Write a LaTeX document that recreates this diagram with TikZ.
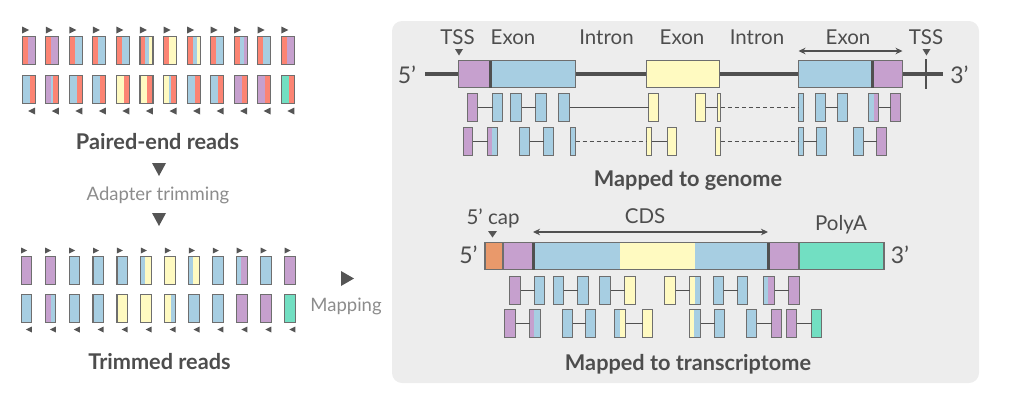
\documentclass[tikz,border=0pt]{standalone}
\usepackage{fontspec}
\setmainfont{Lato}
\usepackage{tikz}
\usetikzlibrary{arrows.meta}
\definecolor{adapterColor}{HTML}{FC8473}
\definecolor{exonAColor}{HTML}{A7CEE2}
\definecolor{exonBColor}{HTML}{FFFAC1}
\definecolor{utrColor}{HTML}{C6A0CE}
\definecolor{polyAColor}{HTML}{72DFC2}
\definecolor{capColor}{HTML}{E9996B}
\definecolor{edgeColor}{HTML}{6E6E6E}
\definecolor{lineColor}{HTML}{505050}
\definecolor{markColor}{HTML}{555555}
\definecolor{textColor}{HTML}{4D4D4D}
\definecolor{noteColor}{HTML}{8C8C8C}
\definecolor{panelColor}{HTML}{EDEDED}

\def\readsTop{utrColor/utrColor, utrColor/utrColor, exonAColor/exonAColor, exonAColor/exonAColor, exonAColor/exonAColor, exonBColor/exonAColor, exonBColor/exonBColor, exonBColor/exonAColor, exonAColor/exonAColor, utrColor/exonAColor, exonAColor/exonAColor, utrColor/utrColor}
\def\readsBottom{exonAColor/exonAColor, utrColor/exonAColor, exonAColor/exonAColor, exonAColor/exonAColor, exonBColor/exonBColor, exonBColor/exonBColor, exonBColor/exonAColor, exonAColor/exonAColor, exonAColor/exonAColor, utrColor/utrColor, utrColor/utrColor, polyAColor/polyAColor}

\begin{document}
\begin{tikzpicture}[x=1pt, y=-1pt,
    read/.style={draw=edgeColor, line width=1.1pt, minimum height=28pt, inner sep=0pt, outer sep=0pt},
    gbox/.style={read, minimum height=27pt},
    lpart/.style 2 args={path picture={\fill[#1] (path picture bounding box.north west) rectangle ([xshift=#2]path picture bounding box.south west);}},
    rpart/.style 2 args={path picture={\fill[#1] ([xshift=-#2]path picture bounding box.north east) rectangle (path picture bounding box.south east);}},
    adapterL/.style 2 args={fill=#1, path picture={
        \fill[#2] (path picture bounding box.north west) rectangle ([xshift=9.5pt]path picture bounding box.south west);
        \fill[adapterColor] (path picture bounding box.north west) rectangle ([xshift=5.5pt]path picture bounding box.south west);}},
    adapterR/.style 2 args={fill=#1, path picture={
        \fill[#2] ([xshift=5.5pt]path picture bounding box.north west) rectangle (path picture bounding box.south east);
        \fill[adapterColor] ([xshift=-5.5pt]path picture bounding box.north east) rectangle (path picture bounding box.south east);}},
    link/.style={draw=lineColor, line width=1.8pt},
    dottedlink/.style={link, dash pattern=on 4pt off 3pt},
    cutline/.style={draw=lineColor, line width=3pt},
    spanarrow/.style={draw=lineColor, line width=1.6pt, {Stealth[length=7pt,width=6.5pt]}-{Stealth[length=7pt,width=6.5pt]}},
    lbl/.style={text=textColor, font=\fontsize{20.5}{20.5}\selectfont, anchor=base, inner sep=0pt},
    endlabel/.style={lbl, font=\fontsize{23}{23}\selectfont},
    heading/.style={lbl, font=\bfseries\fontsize{21.7}{21.7}\selectfont},
    note/.style={lbl, text=noteColor, font=\fontsize{18.5}{18.5}\selectfont}]
\useasboundingbox (0,0) rectangle (1027,415);

% reads before and after trimming
\foreach \m/\s [count=\i] in \readsTop {
  \node[read, minimum width=13, adapterL={\m}{\s}] (p\i) at ({28.7+(\i-1)*23.55}, 50.5) {};
  \fill[markColor] ([yshift=3pt]p\i.north west) -- ++(0,-7) -- ++(7,3.5) -- cycle;
  \node[read, minimum width=10.7, fill=\m, lpart={\s}{4pt}] (t\i) at ({26.5+(\i-1)*23.95}, 270.5) {};
  \fill[markColor] ([yshift=3pt]t\i.north west) -- ++(0,-6) -- ++(6,3) -- cycle;
}
\foreach \m/\s [count=\i] in \readsBottom {
  \node[read, minimum width=13, adapterR={\m}{\s}] (q\i) at ({28.7+(\i-1)*23.55}, 89.5) {};
  \fill[markColor] ([yshift=-4pt]q\i.south east) -- ++(0,7) -- ++(-7,-3.5) -- cycle;
  \node[read, minimum width=10.7, fill=\s, lpart={\m}{6pt}] (u\i) at ({26.5+(\i-1)*23.95}, 308.5) {};
  \fill[markColor] ([yshift=-4pt]u\i.south east) -- ++(0,6) -- ++(-6,-3) -- cycle;
}
\node[heading] (paired) at (157.5,149) {Paired-end reads};
\fill[markColor] (152,163) -- (166,163) -- (159,176) -- cycle;
\node[note] (trim) at (158,200) {Adapter trimming};
\fill[markColor] (152,213) -- (166,213) -- (159,226) -- cycle;
\node[heading] (trimmed) at (159.5,369) {Trimmed reads};
\fill[markColor] (341,271) -- (341,286) -- (354,278.5) -- cycle;
\node[note] (mapping) at (346,311) {Mapping};

\fill[panelColor, rounded corners=10pt] (392,21) rectangle (979,383);

% genome
\coordinate (g5) at (425,74);
\coordinate (g3) at (943,74);
\draw[lineColor, line width=3.5pt] (g5) -- (g3);
\coordinate (tickTop) at (926,59);
\coordinate (tickBot) at (926,89);
\draw[lineColor, line width=2pt] (tickTop) -- (tickBot);
\node[gbox, minimum width=117, fill=exonAColor, lpart={utrColor}{31.5pt}] (exon1) at (517,74) {};
\draw[cutline] ([xshift=31.5pt]exon1.north west) -- ([xshift=31.5pt]exon1.south west);
\node[gbox, minimum width=73, fill=exonBColor] (exon2) at (683,74) {};
\node[gbox, minimum width=104, fill=exonAColor, rpart={utrColor}{30pt}] (exon3) at (850.5,74) {};
\draw[cutline] ([xshift=-30pt]exon3.north east) -- ([xshift=-30pt]exon3.south east);
\node[endlabel] (g5l) at (407,83) {5’};
\node[endlabel] (g3l) at (959.5,83) {3’};
\node[lbl] (tss1) at (457.5,44) {TSS};
\node[lbl] (ex1) at (513,44) {Exon};
\node[lbl] (in1) at (606.5,44) {Intron};
\node[lbl] (ex2) at (682,44) {Exon};
\node[lbl] (in2) at (757,44) {Intron};
\node[lbl] (ex3) at (848,44) {Exon};
\node[lbl] (tss2) at (926,44) {TSS};
\fill[markColor] (455,49) -- (463,49) -- (459,55.5) -- cycle;
\fill[markColor] (922.5,49) -- (930.5,49) -- (926.5,55.5) -- cycle;
\coordinate (exonTop) at (0,51);
\draw[spanarrow] (exon3.west |- exonTop) -- (exon3.east |- exonTop);

\node[read, minimum width=10, fill=utrColor] (r1a) at (472.5,107.5) {};
\node[read, minimum width=10, fill=exonAColor] (r1b) at (497.5,107.5) {};
\node[read, minimum width=11, fill=exonAColor] (r1c) at (516,107.5) {};
\node[read, minimum width=11, fill=exonAColor] (r1d) at (541,107.5) {};
\node[read, minimum width=11, fill=exonAColor] (r1e) at (564,107.5) {};
\node[read, minimum width=10, fill=exonBColor] (r1f) at (653.5,107.5) {};
\node[read, minimum width=10, fill=exonBColor] (r1g) at (700.5,107.5) {};
\node[read, minimum width=3.5, fill=exonBColor] (r1h) at (719,107.5) {};
\node[read, minimum width=5, fill=exonAColor] (r1i) at (801,107.5) {};
\node[read, minimum width=10, fill=exonAColor] (r1j) at (820.5,107.5) {};
\node[read, minimum width=10, fill=exonAColor] (r1k) at (842.5,107.5) {};
\node[read, minimum width=10, fill=utrColor, lpart={exonAColor}{5pt}] (r1l) at (873.5,107.5) {};
\node[read, minimum width=10, fill=utrColor] (r1m) at (895.5,107.5) {};
\node[read, minimum width=9.5, fill=utrColor] (r2a) at (468,141.5) {};
\node[read, minimum width=10, fill=exonAColor, lpart={utrColor}{4pt}] (r2b) at (492.5,141.5) {};
\node[read, minimum width=10, fill=exonAColor] (r2c) at (524.5,141.5) {};
\node[read, minimum width=10, fill=exonAColor] (r2d) at (548.5,141.5) {};
\node[read, minimum width=5, fill=exonAColor] (r2e) at (573,141.5) {};
\node[read, minimum width=5, fill=exonBColor] (r2f) at (649,141.5) {};
\node[read, minimum width=9.5, fill=exonBColor] (r2g) at (672,141.5) {};
\node[read, minimum width=5, fill=exonBColor] (r2h) at (718,141.5) {};
\node[read, minimum width=5, fill=exonAColor] (r2i) at (801,141.5) {};
\node[read, minimum width=10, fill=exonAColor] (r2j) at (821.5,141.5) {};
\node[read, minimum width=10, fill=exonAColor] (r2k) at (858.5,141.5) {};
\node[read, minimum width=10, fill=utrColor] (r2l) at (881.5,141.5) {};
\foreach \u/\v in {r1a/r1b, r1c/r1d, r1e/r1f, r1g/r1h, r1j/r1k, r1l/r1m, r2a/r2b, r2c/r2d, r2f/r2g, r2i/r2j, r2k/r2l}
  \draw[link] (\u) -- (\v);
\foreach \u/\v in {r1h/r1i, r2e/r2f, r2h/r2i}
  \draw[dottedlink] (\u) -- (\v);
\node[heading] (genome) at (688,186.5) {Mapped to genome};

% transcriptome
\node[gbox, minimum width=18, fill=capColor] (cap) at (494,256) {};
\node[gbox, minimum width=30, fill=utrColor] (utr5) at (518,256) {};
\node[gbox, minimum width=235, fill=exonAColor, path picture={\fill[exonBColor] ([xshift=87pt]path picture bounding box.north west) rectangle ([xshift=162pt]path picture bounding box.south west);}] (cds) at (650.5,256) {};
\node[gbox, minimum width=31, fill=utrColor] (utr3) at (783.5,256) {};
\node[gbox, minimum width=85, fill=polyAColor] (polyA) at (841.5,256) {};
\draw[cutline] (cds.north west) -- (cds.south west);
\draw[cutline] (cds.north east) -- (cds.south east);
\node[endlabel] (t5l) at (468.5,263) {5’};
\node[endlabel] (t3l) at (900,263) {3’};
\node[lbl] (capl) at (493,224) {5’ cap};
\fill[markColor] (488,231) -- (497,231) -- (492.5,237.5) -- cycle;
\node[lbl] (cdsl) at (645,223) {CDS};
\coordinate (cdsTop) at (0,232);
\draw[spanarrow] (cds.west |- cdsTop) -- (cds.east |- cdsTop);
\node[lbl] (polyAl) at (841,230) {PolyA};

\node[read, minimum width=11, fill=utrColor] (s1a) at (515,290.5) {};
\node[read, minimum width=10, fill=exonAColor] (s1b) at (539.5,290.5) {};
\node[read, minimum width=10, fill=exonAColor] (s1c) at (558.5,290.5) {};
\node[read, minimum width=11, fill=exonAColor] (s1d) at (583,290.5) {};
\node[read, minimum width=11, fill=exonAColor] (s1e) at (605,290.5) {};
\node[read, minimum width=11, fill=exonBColor] (s1f) at (630,290.5) {};
\node[read, minimum width=11, fill=exonBColor] (s1g) at (670,290.5) {};
\node[read, minimum width=11, fill=exonAColor, lpart={exonBColor}{5pt}] (s1h) at (695,290.5) {};
\node[read, minimum width=10, fill=exonAColor] (s1i) at (718.5,290.5) {};
\node[read, minimum width=10, fill=exonAColor] (s1j) at (742.5,290.5) {};
\node[read, minimum width=11, fill=utrColor, lpart={exonAColor}{4pt}] (s1k) at (769,290.5) {};
\node[read, minimum width=11, fill=utrColor] (s1l) at (794,290.5) {};
\node[read, minimum width=11, fill=utrColor] (s2a) at (510,323.5) {};
\node[read, minimum width=11, fill=exonAColor, lpart={utrColor}{4.5pt}] (s2b) at (535,323.5) {};
\node[read, minimum width=10, fill=exonAColor] (s2c) at (567.5,323.5) {};
\node[read, minimum width=10, fill=exonAColor] (s2d) at (590.5,323.5) {};
\node[read, minimum width=11, fill=exonBColor, lpart={exonAColor}{5.5pt}] (s2e) at (620,323.5) {};
\node[read, minimum width=10, fill=exonBColor] (s2f) at (647.5,323.5) {};
\node[read, minimum width=11, fill=exonAColor, lpart={exonBColor}{4.5pt}] (s2g) at (695,323.5) {};
\node[read, minimum width=10, fill=exonAColor] (s2h) at (719.5,323.5) {};
\node[read, minimum width=10, fill=exonAColor] (s2i) at (751.5,323.5) {};
\node[read, minimum width=10, fill=utrColor] (s2j) at (776.5,323.5) {};
\node[read, minimum width=10, fill=utrColor] (s2k) at (791.5,323.5) {};
\node[read, minimum width=10, fill=polyAColor] (s2l) at (816.5,323.5) {};
\foreach \u/\v in {s1a/s1b, s1c/s1d, s1e/s1f, s1g/s1h, s1i/s1j, s1k/s1l, s2a/s2b, s2c/s2d, s2e/s2f, s2g/s2h, s2i/s2j, s2k/s2l}
  \draw[link] (\u) -- (\v);
\node[heading] (transcriptome) at (688,370) {Mapped to transcriptome};
\end{tikzpicture}
\end{document}
